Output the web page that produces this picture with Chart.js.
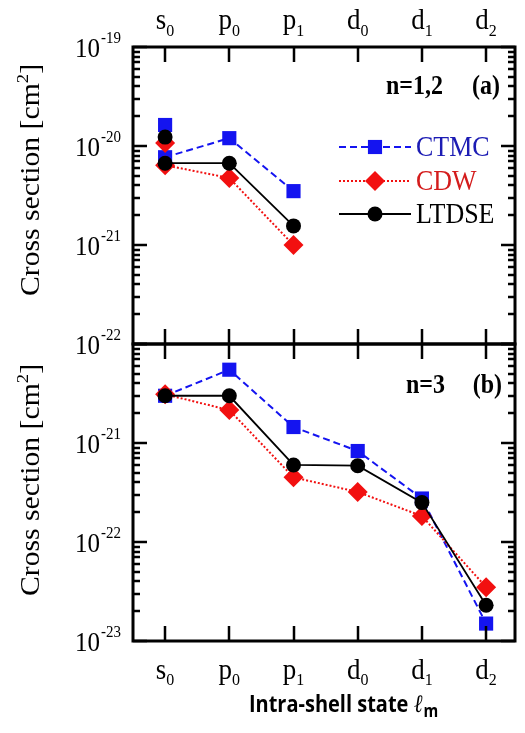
<!DOCTYPE html>
<html lang="en">
<head>
<meta charset="UTF-8">
<title>Intra-shell cross sections</title>
<script src="https://cdn.jsdelivr.net/npm/chart.js"></script>
<style>
  body { margin: 0; background: #fff; }
  #wrap { position: relative; width: 525px; height: 733px; }
  #wrap canvas { position: absolute; left: 0; top: 0; }
</style>
</head>
<body>
<div id="wrap">
  <canvas id="panelA" width="525" height="733"></canvas>
  <canvas id="panelB" width="525" height="733"></canvas>
</div>
<script>
// intra-shell states along x
const states = ['s0', 'p0', 'p1', 'd0', 'd1', 'd2'];

// n = 1,2: the n=1 s0 value stands alone, the n=2 values make the s0..p1 line
const ctmcN1 = [1.63e-20];
const cdwN1 = [1.07e-20];
const ltdseN1 = [1.23e-20];
const ctmcN2 = [7.7e-21, 1.2e-20, 3.5e-21];
const cdwN2 = [6.4e-21, 4.75e-21, 1.0e-21];
const ltdseN2 = [6.7e-21, 6.7e-21, 1.56e-21];

// n = 3: s0..d2
const ctmcN3 = [3.0e-21, 5.5e-21, 1.45e-21, 8.3e-22, 2.75e-22, 1.5e-23];
const cdwN3 = [3.1e-21, 2.15e-21, 4.5e-22, 3.2e-22, 1.83e-22, 3.5e-23];
const ltdseN3 = [3.0e-21, 3.0e-21, 6.0e-22, 5.9e-22, 2.5e-22, 2.3e-23];

// decade exponents labelled on the y axes
const expTicksA = [-19, -20, -21, -22];
const expTicksB = [-21, -22, -23];

const styles = {
  CTMC:  { color: '#1414f0', text: '#1c1cb4', dash: [7, 4], width: 2,   point: 'rect',    radius: 10,  order: 3 },
  CDW:   { color: '#f21010', text: '#d41c1c', dash: [2, 2], width: 2,   point: 'rectRot', radius: 10,  order: 2 },
  LTDSE: { color: '#000000', text: '#000000', dash: [],     width: 1.8, point: 'circle',  radius: 7.5, order: 1 }
};

const SERIF = "'Liberation Serif', 'Times New Roman', serif";
const STRETCH = 1.1;

function toPoints(vals) {
  return vals.map((v, i) => ({ x: i, y: v }));
}

function series(name, vals, showLine) {
  const s = styles[name];
  return {
    label: name,
    data: toPoints(vals),
    showLine: showLine,
    borderColor: s.color,
    backgroundColor: s.color,
    borderWidth: s.width,
    borderDash: s.dash,
    pointStyle: s.point,
    pointRadius: s.radius,
    pointBorderWidth: 0,
    pointBackgroundColor: s.color,
    tension: 0,
    fill: false,
    order: s.order
  };
}

function textAt(ctx, txt, x, y, font, color, align, stretch) {
  ctx.save();
  ctx.translate(x, y);
  ctx.scale(1, stretch || STRETCH);
  ctx.font = font;
  ctx.fillStyle = color;
  ctx.textAlign = align || 'left';
  ctx.textBaseline = 'alphabetic';
  ctx.fillText(txt, 0, 0);
  ctx.restore();
}

function widthOf(ctx, txt, font) {
  ctx.save();
  ctx.font = font;
  const w = ctx.measureText(txt).width;
  ctx.restore();
  return w;
}

function drawMarker(ctx, s, x, y) {
  ctx.save();
  ctx.fillStyle = s.color;
  ctx.beginPath();
  if (s.point === 'rect') {
    const h = s.radius * Math.SQRT1_2;
    ctx.rect(x - h, y - h, 2 * h, 2 * h);
  } else if (s.point === 'rectRot') {
    ctx.moveTo(x, y - s.radius);
    ctx.lineTo(x + s.radius, y);
    ctx.lineTo(x, y + s.radius);
    ctx.lineTo(x - s.radius, y);
    ctx.closePath();
  } else {
    ctx.arc(x, y, s.radius, 0, Math.PI * 2);
  }
  ctx.fill();
  ctx.restore();
}

// frame, inward ticks, labels, legend and panel tag
const framePlugin = {
  id: 'frame',
  afterDraw(chart, args, opts) {
    const ctx = chart.ctx;
    const xs = chart.scales.x, ys = chart.scales.y;
    const a = chart.chartArea;
    ctx.save();
    ctx.strokeStyle = '#000';
    ctx.lineCap = 'butt';

    // minor and major ticks on left and right
    ctx.lineWidth = 2.5;
    ctx.beginPath();
    for (let e = opts.minExp; e < opts.maxExp; e++) {
      for (let m = 2; m <= 9; m++) {
        const py = Math.round(ys.getPixelForValue(m * Math.pow(10, e)));
        ctx.moveTo(a.left, py); ctx.lineTo(a.left + 7, py);
        ctx.moveTo(a.right, py); ctx.lineTo(a.right - 7, py);
      }
    }
    for (let e = opts.minExp; e <= opts.maxExp; e++) {
      const py = Math.round(ys.getPixelForValue(Math.pow(10, e)));
      ctx.moveTo(a.left, py); ctx.lineTo(a.left + 14, py);
      ctx.moveTo(a.right, py); ctx.lineTo(a.right - 14, py);
    }
    // category ticks on top and bottom
    states.forEach((st, i) => {
      const px = Math.round(xs.getPixelForValue(i));
      ctx.moveTo(px, a.top); ctx.lineTo(px, a.top + 15);
      ctx.moveTo(px, a.bottom); ctx.lineTo(px, a.bottom - 15);
    });
    ctx.stroke();

    ctx.lineWidth = 3;
    ctx.strokeRect(a.left, a.top, a.right - a.left, a.bottom - a.top);

    // y tick labels 10^e
    const mainF = '25px ' + SERIF, supF = '15px ' + SERIF;
    opts.labelExps.forEach(e => {
      const py = ys.getPixelForValue(Math.pow(10, e));
      const sup = String(e);
      const sw = widthOf(ctx, sup, supF);
      const right = 121;
      textAt(ctx, '10', right - sw - 1, py + 10, mainF, '#000', 'right');
      textAt(ctx, sup, right - sw, py - 4, supF, '#000', 'left');
    });

    // category labels with subscripts
    if (opts.catLabelY) {
      const cF = '27px ' + SERIF, sF = '16px ' + SERIF;
      states.forEach((st, i) => {
        const px = xs.getPixelForValue(i);
        const mw = widthOf(ctx, st[0], cF), sw = widthOf(ctx, st.slice(1), sF);
        const x0 = px - (mw + sw) / 2;
        textAt(ctx, st[0], x0, opts.catLabelY, cF, '#000');
        textAt(ctx, st.slice(1), x0 + mw, opts.catLabelY + opts.subDrop, sF, '#000');
      });
    }

    // y axis title, rotated
    {
      const tF = '27px ' + SERIF, sF = '17px ' + SERIF;
      const t1 = 'Cross section [cm', t2 = '2', t3 = ']';
      const w1 = widthOf(ctx, t1, tF), w2 = widthOf(ctx, t2, sF), w3 = widthOf(ctx, t3, tF);
      const total = w1 + w2 + w3;
      ctx.save();
      ctx.translate(39, opts.titleY);
      ctx.scale(1, STRETCH);
      ctx.rotate(-Math.PI / 2);
      ctx.fillStyle = '#000';
      ctx.textBaseline = 'alphabetic';
      ctx.textAlign = 'left';
      ctx.font = tF;
      ctx.fillText(t1, -total / 2, 0);
      ctx.font = sF;
      ctx.fillText(t2, -total / 2 + w1, -11);
      ctx.font = tF;
      ctx.fillText(t3, -total / 2 + w1 + w2, 0);
      ctx.restore();
    }

    // panel tag
    const bF = 'bold 24px ' + SERIF;
    textAt(ctx, opts.tag, opts.tagX, opts.tagY, bF, '#000', 'right');
    textAt(ctx, opts.letter, opts.letterX, opts.tagY, bF, '#000', 'right');

    // legend
    if (opts.legendY) {
      ['CTMC', 'CDW', 'LTDSE'].forEach((name, k) => {
        const s = styles[name];
        const y = opts.legendY[k];
        ctx.save();
        ctx.strokeStyle = s.color;
        ctx.lineWidth = s.width;
        ctx.setLineDash(s.dash);
        ctx.beginPath();
        ctx.moveTo(339, y); ctx.lineTo(411, y);
        ctx.stroke();
        ctx.restore();
        drawMarker(ctx, s, 375, y);
        textAt(ctx, name, 416, y + 9, '26px ' + SERIF, s.text);
      });
    }

    // x axis title
    if (opts.xTitle) {
      const f = "700 20px 'Open Sans', 'DejaVu Sans', sans-serif";
      const fi = "italic 21px 'DejaVu Serif', serif";
      const fs = "700 15px 'Open Sans', sans-serif";
      const t = 'Intra-shell state ';
      const w1 = widthOf(ctx, t, f), w2 = widthOf(ctx, 'ℓ', fi), w3 = widthOf(ctx, 'm', fs);
      const x0 = 343 - (w1 + w2 + w3) / 2;
      textAt(ctx, t, x0, 712, f, '#000', 'left', 1.2);
      textAt(ctx, 'ℓ', x0 + w1, 712, fi, '#000', 'left', 1.2);
      textAt(ctx, 'm', x0 + w1 + w2 + 1, 717, fs, '#000', 'left', 1.2);
    }
    ctx.restore();
  }
};

function makeChart(id, datasets, padding, yMin, yMax, frameOpts) {
  return new Chart(document.getElementById(id), {
    type: 'line',
    data: { datasets: datasets },
    plugins: [framePlugin],
    options: {
      responsive: false,
      animation: false,
      devicePixelRatio: 1,
      layout: { padding: padding },
      plugins: { legend: { display: false }, tooltip: { enabled: false }, frame: frameOpts },
      scales: {
        x: { type: 'linear', display: false, min: -0.5, max: 5.45 },
        y: { type: 'logarithmic', display: false, min: yMin, max: yMax }
      }
    }
  });
}

makeChart('panelA', [
  series('LTDSE', ltdseN2, true),
  series('CDW', cdwN2, true),
  series('CTMC', ctmcN2, true),
  series('LTDSE', ltdseN1, false),
  series('CDW', cdwN1, false),
  series('CTMC', ctmcN1, false)
], { left: 133, top: 47, right: 2, bottom: 733 - 344 }, 1e-22, 1e-19, {
  minExp: -22, maxExp: -19, labelExps: expTicksA,
  catLabelY: 29, subDrop: 7, titleY: 180,
  tag: 'n=1,2', tagX: 443, letter: '(a)', letterX: 500, tagY: 94,
  legendY: [147, 181, 214]
});

makeChart('panelB', [
  series('LTDSE', ltdseN3, true),
  series('CDW', cdwN3, true),
  series('CTMC', ctmcN3, true)
], { left: 133, top: 344, right: 2, bottom: 733 - 641 }, 1e-23, 1e-20, {
  minExp: -23, maxExp: -20, labelExps: expTicksB,
  catLabelY: 679, subDrop: 6, titleY: 480,
  tag: 'n=3', tagX: 445, letter: '(b)', letterX: 502, tagY: 393,
  xTitle: true
});
</script>
</body>
</html>
